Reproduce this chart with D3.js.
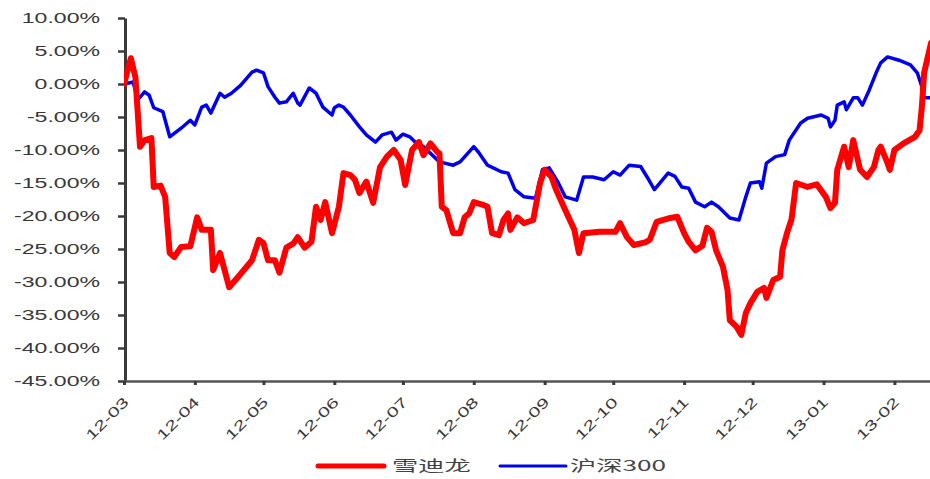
<!DOCTYPE html>
<html>
<head>
<meta charset="utf-8">
<script src="https://cdn.jsdelivr.net/npm/d3@7"></script>
<style>
  body { margin: 0; background: #fff; }
  svg { display: block; }
</style>
</head>
<body>
<svg id="chart" width="930" height="479"></svg>
<script>
// 月份刻度
const monthLabels = ["12-03", "12-04", "12-05", "12-06", "12-07", "12-08",
  "12-09", "12-10", "12-11", "12-12", "13-01", "13-02"];
const monthStarts = ["2012-03-01", "2012-04-01", "2012-05-01", "2012-06-01",
  "2012-07-01", "2012-08-01", "2012-09-01", "2012-10-01", "2012-11-01",
  "2012-12-01", "2013-01-01", "2013-02-01"];
const yTicks = [10, 5, 0, -5, -10, -15, -20, -25, -30, -35, -40, -45];

const seriesNames = ["雪迪龙", "沪深300"];

// 雪迪龙 累计涨跌幅 (%)
const sdl = [
  ["2012-03-01", 0], ["2012-03-04", 3.9], ["2012-03-06", 1.0], ["2012-03-08", -9.5],
  ["2012-03-10", -8.5], ["2012-03-13", -8.2], ["2012-03-14", -15.6], ["2012-03-17", -15.4],
  ["2012-03-19", -17.1], ["2012-03-21", -25.6], ["2012-03-23", -26.2], ["2012-03-26", -24.7],
  ["2012-03-30", -24.6], ["2012-04-02", -20.2], ["2012-04-04", -22.1], ["2012-04-08", -22.1],
  ["2012-04-09", -28.2], ["2012-04-12", -25.6], ["2012-04-16", -30.8], ["2012-04-20", -29.2],
  ["2012-04-26", -26.7], ["2012-04-29", -23.6], ["2012-05-01", -24.1], ["2012-05-03", -26.7],
  ["2012-05-06", -26.7], ["2012-05-08", -28.6], ["2012-05-11", -24.8], ["2012-05-14", -24.2],
  ["2012-05-16", -23.2], ["2012-05-19", -24.8], ["2012-05-22", -23.9], ["2012-05-24", -18.6],
  ["2012-05-26", -20.6], ["2012-05-28", -17.9], ["2012-05-31", -22.6], ["2012-06-03", -18.6],
  ["2012-06-05", -13.5], ["2012-06-08", -13.8], ["2012-06-10", -14.5], ["2012-06-12", -16.5],
  ["2012-06-15", -14.8], ["2012-06-18", -18.0], ["2012-06-21", -12.6], ["2012-06-24", -11.0],
  ["2012-06-27", -10.0], ["2012-06-30", -11.5], ["2012-07-02", -15.3], ["2012-07-05", -10.0],
  ["2012-07-08", -8.8], ["2012-07-10", -10.8], ["2012-07-13", -9.0], ["2012-07-16", -10.3],
  ["2012-07-17", -10.5], ["2012-07-18", -18.6], ["2012-07-20", -19.1], ["2012-07-23", -22.6],
  ["2012-07-26", -22.6], ["2012-07-28", -20.2], ["2012-07-30", -19.6], ["2012-08-01", -17.9],
  ["2012-08-05", -18.3], ["2012-08-07", -18.6], ["2012-08-09", -22.6], ["2012-08-12", -22.9],
  ["2012-08-14", -20.6], ["2012-08-16", -19.6], ["2012-08-17", -22.1], ["2012-08-20", -20.2],
  ["2012-08-23", -21.1], ["2012-08-27", -20.6], ["2012-08-30", -15.0], ["2012-09-01", -13.0],
  ["2012-09-04", -14.1], ["2012-09-06", -16.0], ["2012-09-10", -19.1], ["2012-09-14", -22.1],
  ["2012-09-16", -25.6], ["2012-09-18", -22.6], ["2012-09-25", -22.4], ["2012-10-02", -22.4],
  ["2012-10-04", -21.1], ["2012-10-07", -23.2], ["2012-10-10", -24.4], ["2012-10-15", -24.0],
  ["2012-10-17", -23.6], ["2012-10-20", -20.9], ["2012-10-26", -20.3], ["2012-10-29", -20.1],
  ["2012-11-01", -22.6], ["2012-11-03", -23.9], ["2012-11-06", -25.2], ["2012-11-09", -24.5],
  ["2012-11-11", -21.8], ["2012-11-13", -22.4], ["2012-11-15", -25.2], ["2012-11-18", -27.7],
  ["2012-11-20", -31.2], ["2012-11-21", -35.8], ["2012-11-24", -36.8], ["2012-11-26", -38.0],
  ["2012-11-28", -34.7], ["2012-11-30", -33.2], ["2012-12-03", -31.5], ["2012-12-06", -30.9],
  ["2012-12-07", -32.4], ["2012-12-10", -29.7], ["2012-12-13", -29.2], ["2012-12-14", -25.2],
  ["2012-12-16", -22.6], ["2012-12-18", -20.5], ["2012-12-20", -15.0], ["2012-12-25", -15.6],
  ["2012-12-29", -15.2], ["2013-01-02", -17.1], ["2013-01-04", -18.8], ["2013-01-06", -18.0],
  ["2013-01-07", -13.0], ["2013-01-10", -9.5], ["2013-01-12", -12.6], ["2013-01-14", -8.5],
  ["2013-01-17", -13.0], ["2013-01-20", -14.1], ["2013-01-23", -12.6], ["2013-01-25", -10.0],
  ["2013-01-26", -9.5], ["2013-01-29", -12.0], ["2013-01-30", -13.0], ["2013-02-01", -10.0],
  ["2013-02-05", -9.0], ["2013-02-10", -8.0], ["2013-02-12", -7.0], ["2013-02-13", -3.5],
  ["2013-02-14", 1.7], ["2013-02-17", 6.2]
];

// 沪深300 累计涨跌幅 (%)
const hs300 = [
  ["2012-03-01", 0], ["2012-03-05", 0.3], ["2012-03-07", -2.4], ["2012-03-10", -1.2],
  ["2012-03-12", -1.7], ["2012-03-14", -3.6], ["2012-03-18", -4.2], ["2012-03-21", -8.0],
  ["2012-03-26", -6.7], ["2012-03-30", -5.5], ["2012-04-01", -6.2], ["2012-04-04", -3.5],
  ["2012-04-06", -3.2], ["2012-04-08", -4.4], ["2012-04-12", -1.4], ["2012-04-14", -2.0],
  ["2012-04-17", -1.4], ["2012-04-21", -0.2], ["2012-04-26", 1.8], ["2012-04-28", 2.1],
  ["2012-05-01", 1.7], ["2012-05-03", -0.4], ["2012-05-06", -2.0], ["2012-05-08", -2.9],
  ["2012-05-11", -2.7], ["2012-05-14", -1.4], ["2012-05-16", -2.9], ["2012-05-17", -3.2],
  ["2012-05-21", -0.6], ["2012-05-24", -1.4], ["2012-05-27", -3.5], ["2012-05-31", -4.7],
  ["2012-06-01", -3.6], ["2012-06-03", -3.2], ["2012-06-05", -3.5], ["2012-06-08", -4.7],
  ["2012-06-12", -6.5], ["2012-06-15", -7.7], ["2012-06-19", -8.8], ["2012-06-22", -7.7],
  ["2012-06-26", -7.3], ["2012-06-28", -8.5], ["2012-07-01", -7.6], ["2012-07-04", -8.0],
  ["2012-07-07", -9.0], ["2012-07-10", -9.5], ["2012-07-17", -11.8], ["2012-07-23", -12.3],
  ["2012-07-26", -11.8], ["2012-08-01", -9.5], ["2012-08-03", -10.3], ["2012-08-07", -12.3],
  ["2012-08-13", -13.3], ["2012-08-16", -13.5], ["2012-08-19", -16.0], ["2012-08-23", -17.1],
  ["2012-08-28", -17.3], ["2012-08-31", -13.0], ["2012-09-03", -12.7], ["2012-09-07", -15.0],
  ["2012-09-10", -17.1], ["2012-09-15", -17.6], ["2012-09-18", -14.1], ["2012-09-22", -14.1],
  ["2012-09-27", -14.5], ["2012-10-01", -13.3], ["2012-10-04", -13.8], ["2012-10-08", -12.3],
  ["2012-10-13", -12.5], ["2012-10-16", -14.2], ["2012-10-19", -16.0], ["2012-10-25", -13.5],
  ["2012-10-28", -14.0], ["2012-10-31", -15.6], ["2012-11-03", -15.8], ["2012-11-06", -17.9],
  ["2012-11-10", -18.6], ["2012-11-13", -17.9], ["2012-11-16", -18.6], ["2012-11-21", -20.3],
  ["2012-11-25", -20.6], ["2012-11-28", -17.1], ["2012-11-30", -15.0], ["2012-12-04", -14.8],
  ["2012-12-05", -15.8], ["2012-12-07", -12.0], ["2012-12-11", -11.0], ["2012-12-15", -10.7],
  ["2012-12-17", -8.5], ["2012-12-22", -5.9], ["2012-12-25", -5.2], ["2012-12-31", -4.7],
  ["2013-01-03", -5.2], ["2013-01-04", -6.5], ["2013-01-06", -5.5], ["2013-01-07", -3.2],
  ["2013-01-10", -2.7], ["2013-01-11", -3.9], ["2013-01-14", -2.1], ["2013-01-16", -2.1],
  ["2013-01-18", -3.2], ["2013-01-21", -0.9], ["2013-01-24", 1.7], ["2013-01-26", 3.2],
  ["2013-01-29", 4.1], ["2013-02-03", 3.6], ["2013-02-08", 2.9], ["2013-02-11", 1.7],
  ["2013-02-13", -0.4], ["2013-02-14", -2.1], ["2013-02-17", -2.1]
];

const parse = d3.timeParse("%Y-%m-%d");
const svg = d3.select("#chart");

// 原图文字横向拉伸
const STRETCH = 1.65;

const x = d3.scaleTime()
  .domain([parse("2012-03-01"), parse("2013-02-17")])
  .range([124, 931]);

const y = d3.scaleLinear()
  .domain([-45, 10])
  .range([381, 18]);

// ── 坐标轴 ───────────────────────────────────────────
const yAxis = svg.append("g")
  .attr("transform", "translate(125,0)")
  .call(d3.axisLeft(y)
    .tickValues(yTicks)
    .tickSize(7)
    .tickSizeOuter(0)
    .tickFormat((d) => d.toFixed(2) + "%"));

yAxis.select(".domain").attr("stroke", "#3a3a3a").attr("stroke-width", 3);
yAxis.selectAll(".tick line").attr("stroke", "#3a3a3a").attr("stroke-width", 2.5);
yAxis.selectAll(".tick text")
  .attr("x", 0)
  .attr("transform", `translate(-25,0) scale(${STRETCH},1)`)
  .attr("fill", "#383838")
  .style("font-family", "Arial, 'Liberation Sans', sans-serif")
  .style("font-size", "14px");

const xAxis = svg.append("g")
  .attr("transform", "translate(0,381)")
  .call(d3.axisBottom(x)
    .tickValues(monthStarts.map(parse))
    .tickSize(4)
    .tickSizeOuter(0)
    .tickFormat((d, i) => monthLabels[i]));

xAxis.select(".domain").attr("stroke", "#555").attr("stroke-width", 2.5);
xAxis.selectAll(".tick line").attr("stroke", "#3a3a3a").attr("stroke-width", 3);
xAxis.selectAll(".tick text")
  .attr("x", 0)
  .attr("y", 0)
  .attr("dy", 0)
  .attr("text-anchor", "end")
  .attr("transform", "translate(5,22) rotate(-45) scale(1.5,1)")
  .attr("fill", "#383838")
  .style("font-family", "Arial, 'Liberation Sans', sans-serif")
  .style("font-size", "14px");

// ── 折线 ───────────────────────────────────────────
const line = d3.line()
  .x((d) => x(parse(d[0])))
  .y((d) => y(d[1]));

const series = [
  { name: seriesNames[0], data: sdl, color: "#ff0000", width: 6 },
  { name: seriesNames[1], data: hs300, color: "#0000ee", width: 3.5 },
];

svg.append("defs").append("clipPath").attr("id", "plot-clip")
  .append("rect").attr("x", 124).attr("y", 0).attr("width", 806).attr("height", 381);

// 先画沪深300，再画雪迪龙（红线在上）
[series[1], series[0]].forEach((s) => {
  svg.append("path")
    .datum(s.data)
    .attr("clip-path", "url(#plot-clip)")
    .attr("fill", "none")
    .attr("stroke", s.color)
    .attr("stroke-width", s.width)
    .attr("stroke-linejoin", "round")
    .attr("stroke-linecap", "round")
    .attr("d", line);
});

// ── 图例 ───────────────────────────────────────────
const legendPos = [{ x: 318, tx: 392 }, { x: 500, tx: 570 }];
const legend = svg.append("g").attr("transform", "translate(0,466)");
series.forEach((s, i) => {
  legend.append("line")
    .attr("x1", legendPos[i].x).attr("x2", legendPos[i].x + 66)
    .attr("y1", 0).attr("y2", 0)
    .attr("stroke", s.color)
    .attr("stroke-width", i === 0 ? 5 : 3)
    .attr("stroke-linecap", "round");
  legend.append("text")
    .attr("transform", `translate(${legendPos[i].tx},0) scale(1.75,1)`)
    .attr("dy", "0.36em")
    .attr("fill", "#444")
    .style("font-family", "'Noto Sans CJK SC', sans-serif")
    .style("font-size", "15px")
    .text(s.name);
});
</script>
</body>
</html>
